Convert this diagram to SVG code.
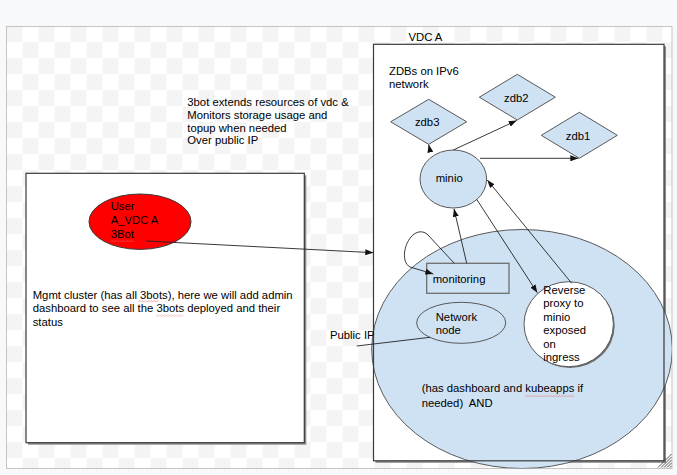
<svg xmlns="http://www.w3.org/2000/svg" width="677" height="475" viewBox="0 0 677 475">
<defs>
<pattern id="checker" x="6.5" y="26" width="32" height="32" patternUnits="userSpaceOnUse">
<rect width="32" height="32" fill="#ffffff"/>
<rect width="16" height="16" fill="#f4f4f4"/>
<rect x="16" y="16" width="16" height="16" fill="#f4f4f4"/>
</pattern>
<pattern id="squig" width="3" height="2.5" patternUnits="userSpaceOnUse">
<path d="M0,2 L1.5,0.5 L3,2" fill="none" stroke="#e06666" stroke-width="0.6"/>
</pattern>
<marker id="arr" markerWidth="8" markerHeight="6" refX="8" refY="3" orient="auto" markerUnits="userSpaceOnUse">
<path d="M0,0 L8,3 L0,6 z" fill="#111"/>
</marker>
<clipPath id="canvasClip"><rect x="6.5" y="26.5" width="665.5" height="442"/></clipPath>
</defs>
<style>
text{font-family:"Liberation Sans",Arial,sans-serif;font-size:11.3px;fill:#000}
.shape{stroke:#595959;stroke-width:1}
.blue{fill:#cfe2f3}
.conn{fill:none;stroke:#222;stroke-width:0.9}
.box{fill:#fff;stroke:#3a3a3a;stroke-width:1.2}
.shadow{fill:#8a8a8a}
.sq{fill:url(#squig)}
</style>

<rect x="0" y="0" width="677" height="475" fill="#f8f9fa"/>
<rect id="canvas" x="6.5" y="26.5" width="665.5" height="442" fill="url(#checker)" stroke="#c4c4c4" stroke-width="1"/>

<g id="mgmt-cluster">
<rect class="shadow" x="28" y="175.3" width="278.3" height="269.4"/>
<rect class="box" x="26" y="173.3" width="278.3" height="269.4"/>
<text x="32.7" y="299.3">Mgmt cluster (has all 3bots), here we will add admin</text>
<text x="32.7" y="312.3">dashboard to see all the 3bots deployed and their</text>
<text x="32.7" y="325.6">status</text>
<rect class="sq" x="138.5" y="300" width="20" height="2.5"/>
<rect class="sq" x="156.5" y="314" width="27" height="2.5"/>
</g>

<g id="user-3bot">
<ellipse cx="140" cy="221.7" rx="51" ry="27.7" fill="#ff0000" stroke="#3a3a3a" stroke-width="1"/>
<text x="110.7" y="210">User</text>
<text x="110.7" y="224">A_VDC A</text>
<text x="110.7" y="237.5">3Bot</text>
<rect class="sq" x="110.5" y="239.5" width="23" height="2.5"/>
</g>

<g id="vdc-a">
<text x="408.5" y="40.6">VDC A</text>
<rect class="shadow" x="375.5" y="46.3" width="290.5" height="416.5"/>
<rect x="373.5" y="44.3" width="290.5" height="416.5" fill="#fff"/>
</g>

<g id="k8s-cluster" clip-path="url(#canvasClip)">
<ellipse class="shape blue" cx="522" cy="349" rx="150.3" ry="119.5"/>
</g>
<rect id="vdc-a-border" x="373.5" y="44.3" width="290.5" height="416.5" fill="none" stroke="#3a3a3a" stroke-width="1.2"/>

<g id="k8s-label">
<text x="421.7" y="392.3">(has dashboard and kubeapps if</text>
<text x="421.7" y="406.7">needed)&#160; AND</text>
<rect class="sq" x="525" y="394.5" width="49" height="2.5"/>
</g>

<g id="zdb-label">
<text x="389" y="74.7">ZDBs on IPv6</text>
<text x="389" y="87.5">network</text>
</g>

<g id="zdb3">
<polygon class="shape blue" points="390.7,121.8 428.7,99.3 466.7,121.8 428.7,144.3"/>
<text x="427.2" y="126" text-anchor="middle">zdb3</text>
</g>
<g id="zdb2">
<polygon class="shape blue" points="479.3,97.2 517.3,74.3 555.3,97.2 517.3,120"/>
<text x="516.3" y="102" text-anchor="middle">zdb2</text>
</g>
<g id="zdb1">
<polygon class="shape blue" points="541.3,135.3 579.3,112.3 617.3,135.3 579.3,158.3"/>
<text x="578" y="140" text-anchor="middle">zdb1</text>
</g>

<g id="minio">
<ellipse class="shape blue" cx="453.3" cy="179" rx="33.3" ry="29"/>
<text x="435.7" y="182.3">minio</text>
</g>

<g id="monitoring">
<rect class="blue" x="426.7" y="263.3" width="82.3" height="30" stroke="#6e6e6e" stroke-width="1.3"/>
<text x="432.7" y="282.5">monitoring</text>
</g>

<g id="network-node">
<ellipse class="shape blue" cx="461.2" cy="322.8" rx="44.5" ry="20.5"/>
<text x="435.7" y="320.8">Network</text>
<text x="435.7" y="333.5">node</text>
</g>

<g id="reverse-proxy">
<ellipse cx="570" cy="325.5" rx="44.7" ry="42.5" fill="#6a6a6a"/>
<ellipse cx="568.7" cy="324.2" rx="44.7" ry="42.5" fill="#fff" stroke="#595959" stroke-width="1"/>
<text x="543.3" y="294">Reverse</text>
<text x="543.3" y="307.4">proxy to</text>
<text x="543.3" y="320.8">minio</text>
<text x="543.3" y="334.2">exposed</text>
<text x="543.3" y="347.6">on</text>
<text x="543.3" y="361">ingress</text>
</g>

<g id="public-ip">
<text x="330" y="339.3">Public IP</text>
</g>

<g id="top-note">
<text x="187.3" y="106">3bot extends resources of vdc &amp;</text>
<text x="187.3" y="118.7">Monitors storage usage and</text>
<text x="187.3" y="131.7">topup when needed</text>
<text x="187.3" y="144.2">Over public IP</text>
</g>

<g id="connectors">
<line class="conn" x1="146" y1="241" x2="373.3" y2="252.7" marker-end="url(#arr)"/>
<line class="conn" x1="430" y1="150.5" x2="428.7" y2="144.5" marker-end="url(#arr)"/>
<line class="conn" x1="453.3" y1="150" x2="516.7" y2="120.5" marker-end="url(#arr)"/>
<line class="conn" x1="480" y1="158.3" x2="578.3" y2="158.3" marker-end="url(#arr)"/>
<line class="conn" x1="466.7" y1="263.3" x2="454" y2="208.8" marker-end="url(#arr)"/>
<line class="conn" x1="476.7" y1="199.3" x2="537.3" y2="292.7" marker-end="url(#arr)"/>
<line class="conn" x1="571.7" y1="283.3" x2="487.3" y2="180" marker-end="url(#arr)"/>
<path class="conn" d="M454.3,263.3 L428,235 C423,230 416,231 411,237 C404,245 401,262 410,267 L433.3,274" marker-end="url(#arr)"/>
<line class="conn" x1="356.7" y1="346" x2="430" y2="337.3"/>
</g>

<g id="resize-grip" stroke="#333" stroke-width="0.8">
<line x1="658" y1="467.5" x2="671.5" y2="454"/>
<line x1="661" y1="467.5" x2="671.5" y2="457"/>
<line x1="664" y1="467.5" x2="671.5" y2="460"/>
<line x1="667" y1="467.5" x2="671.5" y2="463"/>
<line x1="670" y1="467.5" x2="671.5" y2="466"/>
</g>
</svg>
